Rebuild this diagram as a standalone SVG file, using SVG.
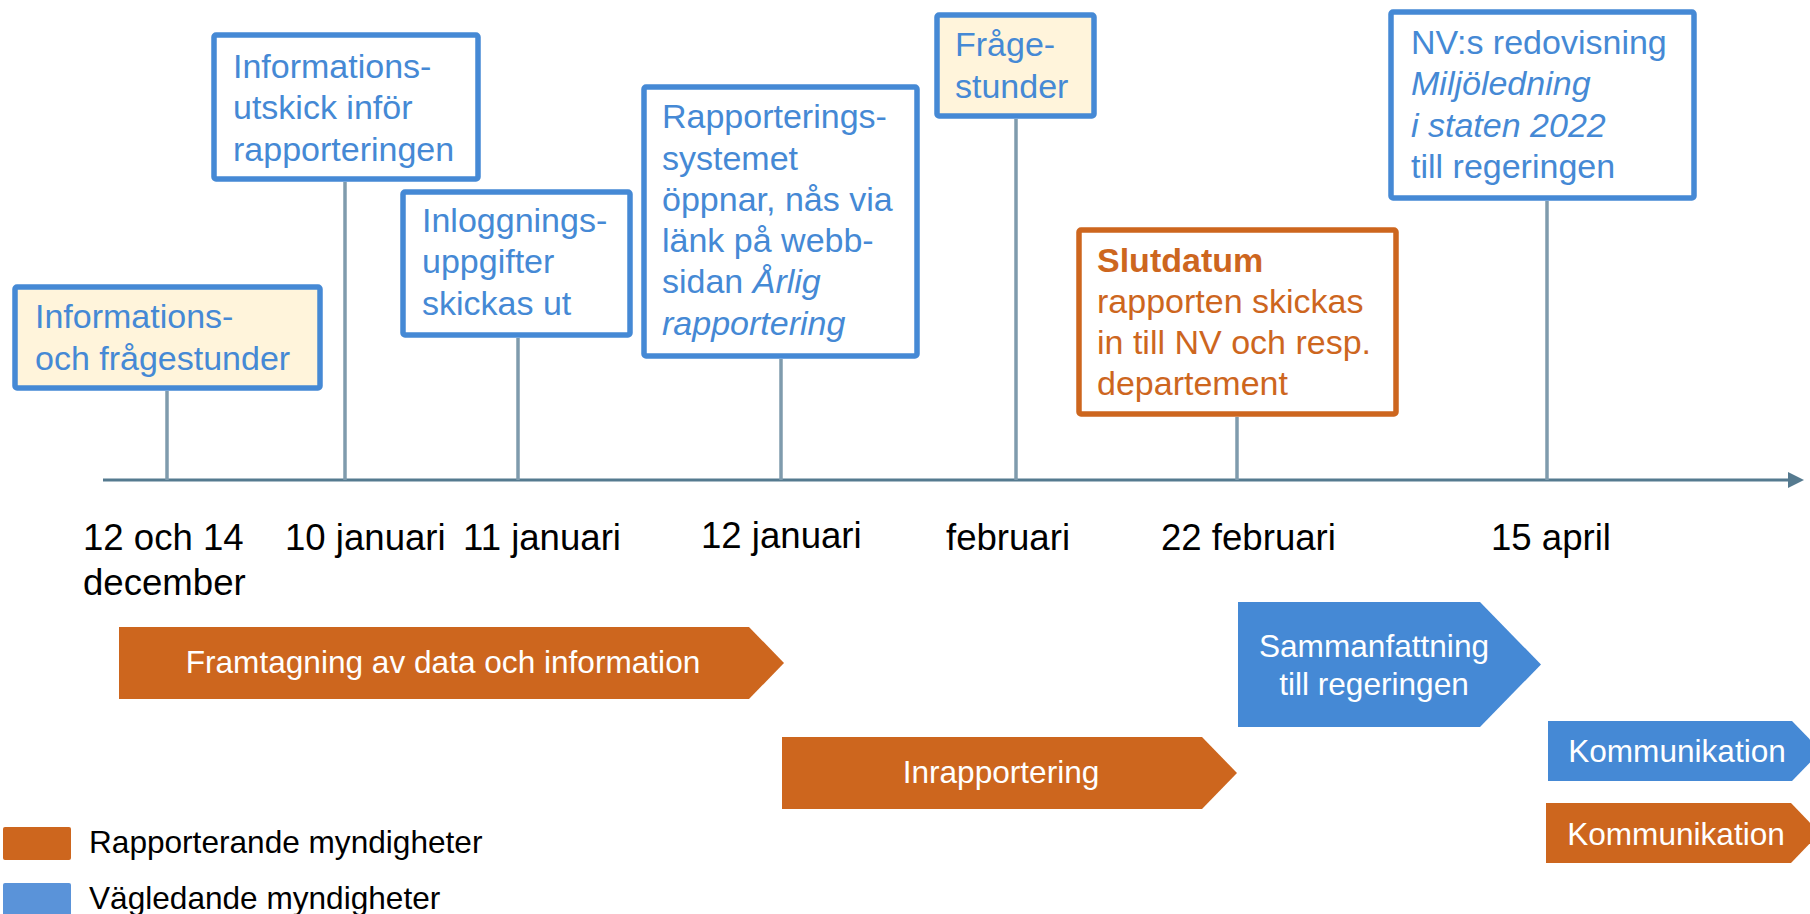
<svg xmlns="http://www.w3.org/2000/svg" width="1810" height="914" viewBox="0 0 1810 914">
<defs>
<style>
text{font-family:"Liberation Sans",Arial,sans-serif}
.box{fill:#fff;stroke:#4589D5;stroke-width:5.5}
.cream{fill:#FFF4DB}
.obox{fill:#fff;stroke:#CD661E;stroke-width:5.5}
.bt{fill:#4589D5;font-size:34px}
.ot{fill:#CD661E;font-size:34px}
.dt{fill:#000;font-size:36.6px}
.ct{fill:#fff;font-size:31.6px;text-anchor:middle}
.lt{fill:#000;font-size:31.6px}
.stem{stroke:#7F9BAD;stroke-width:3.5}
.oc{fill:#CD661E}
.bc{fill:#4589D5}
</style>
</defs>
<rect width="1810" height="914" fill="#fff"/>
<g id="connectors">
<line x1="103" y1="480" x2="1790" y2="480" stroke="#557A8F" stroke-width="3"/>
<polygon points="1788,472 1804,480 1788,488" fill="#557A8F"/>
<line class="stem" x1="167" y1="391" x2="167" y2="480"/>
<line class="stem" x1="345" y1="182" x2="345" y2="480"/>
<line class="stem" x1="518" y1="338" x2="518" y2="480"/>
<line class="stem" x1="781" y1="359" x2="781" y2="480"/>
<line class="stem" x1="1016" y1="119" x2="1016" y2="480"/>
<line class="stem" x1="1237" y1="417" x2="1237" y2="480"/>
<line class="stem" x1="1547" y1="201" x2="1547" y2="480"/>
</g>
<g id="n1">
<rect class="box cream" x="15" y="287" width="305" height="101" rx="2"/>
<text class="bt" x="35" y="328">Informations-</text>
<text class="bt" x="35" y="370">och frågestunder</text>
</g>
<g id="n2">
<rect class="box" x="214" y="35" width="264" height="144" rx="2"/>
<text class="bt" x="233" y="78">Informations-</text>
<text class="bt" x="233" y="119">utskick inför</text>
<text class="bt" x="233" y="161">rapporteringen</text>
</g>
<g id="n3">
<rect class="box" x="403" y="192" width="227" height="143" rx="2"/>
<text class="bt" x="422" y="232">Inloggnings-</text>
<text class="bt" x="422" y="273">uppgifter</text>
<text class="bt" x="422" y="315">skickas ut</text>
</g>
<g id="n4">
<rect class="box" x="644" y="87" width="273" height="269" rx="2"/>
<text class="bt" x="662" y="128">Rapporterings-</text>
<text class="bt" x="662" y="170">systemet</text>
<text class="bt" x="662" y="211">öppnar, nås via</text>
<text class="bt" x="662" y="252">länk på webb-</text>
<text class="bt" x="662" y="293">sidan <tspan font-style="italic">Årlig</tspan></text>
<text class="bt" x="662" y="335" font-style="italic">rapportering</text>
</g>
<g id="n5">
<rect class="box cream" x="937" y="15" width="157" height="101" rx="2"/>
<text class="bt" x="955" y="56">Fråge-</text>
<text class="bt" x="955" y="98">stunder</text>
</g>
<g id="n6">
<rect class="obox" x="1079" y="230" width="317" height="184" rx="2"/>
<text class="ot" x="1097" y="272" font-weight="bold">Slutdatum</text>
<text class="ot" x="1097" y="313">rapporten skickas</text>
<text class="ot" x="1097" y="354">in till NV och resp.</text>
<text class="ot" x="1097" y="395">departement</text>
</g>
<g id="n7">
<rect class="box" x="1391" y="12" width="303" height="186" rx="2"/>
<text class="bt" x="1411" y="54">NV:s redovisning</text>
<text class="bt" x="1411" y="95" font-style="italic">Miljöledning</text>
<text class="bt" x="1411" y="137" font-style="italic">i staten 2022</text>
<text class="bt" x="1411" y="178">till regeringen</text>
</g>
<g id="dates">
<text class="dt" x="83" y="550">12 och 14</text>
<text class="dt" x="83" y="595">december</text>
<text class="dt" x="285" y="550">10 januari</text>
<text class="dt" x="463" y="550">11 januari</text>
<text class="dt" x="701" y="548">12 januari</text>
<text class="dt" x="946" y="550">februari</text>
<text class="dt" x="1161" y="550">22 februari</text>
<text class="dt" x="1491" y="550">15 april</text>
</g>
<g id="p1">
<polygon class="oc" points="119,627 749,627 784,663 749,699 119,699"/>
<text class="ct" x="443" y="673">Framtagning av data och information</text>
</g>
<g id="p2">
<polygon class="oc" points="782,737 1202,737 1237,773 1202,809 782,809"/>
<text class="ct" x="1001" y="783">Inrapportering</text>
</g>
<g id="p3">
<polygon class="bc" points="1238,602 1480,602 1541,664.5 1480,727 1238,727"/>
<text class="ct" x="1374" y="657">Sammanfattning</text>
<text class="ct" x="1374" y="695">till regeringen</text>
</g>
<g id="p4">
<polygon class="bc" points="1548,721 1792,721 1821,751 1792,781 1548,781"/>
<text class="ct" x="1677" y="762">Kommunikation</text>
</g>
<g id="p5">
<polygon class="oc" points="1546,803 1791,803 1820,833 1791,863 1546,863"/>
<text class="ct" x="1676" y="845">Kommunikation</text>
</g>
<g id="legend">
<rect x="3" y="827" width="68" height="33" rx="2" fill="#CD661E"/>
<text class="lt" x="89" y="853">Rapporterande myndigheter</text>
<rect x="3" y="883" width="68" height="34" rx="2" fill="#5A93D9"/>
<text class="lt" x="89" y="909">Vägledande myndigheter</text>
</g>
</svg>
